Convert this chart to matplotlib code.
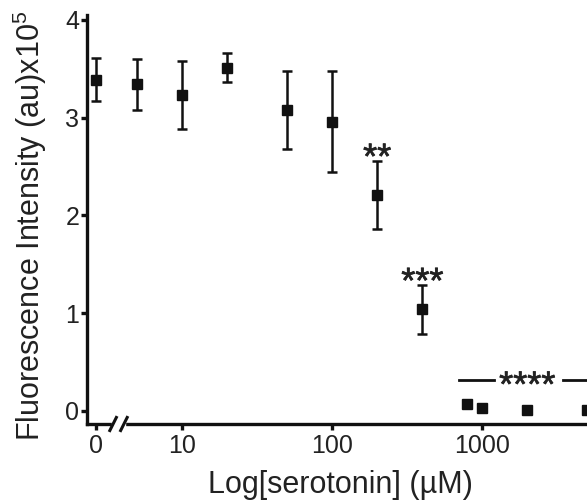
import numpy as np
import matplotlib
matplotlib.use("Agg")
import matplotlib.pyplot as plt
import matplotlib.patheffects as pe

plt.rcParams['font.family'] = ['Liberation Sans', 'DejaVu Sans']
plt.rcParams['mathtext.fontset'] = 'custom'
plt.rcParams['mathtext.rm'] = 'Liberation Sans'

# serotonin concentration (uM), 0 is drawn left of the axis break
conc = [0, 5, 10, 20, 50, 100, 200, 400, 800, 1000, 2000, 5000]
intensity = [3.39, 3.34, 3.23, 3.51, 3.08, 2.96, 2.21, 1.04, 0.07, 0.03, 0.01, 0.01]
sem = [0.22, 0.26, 0.35, 0.15, 0.40, 0.52, 0.35, 0.25, 0.0, 0.0, 0.0, 0.0]

x_ticks = [0, 10, 100, 1000]
x_tick_labels = ['0', '10', '100', '1000']
y_ticks = [0, 1, 2, 3, 4]

# significance marks: (text, x, y baseline)
stars = [('**', 200, 2.48), ('***', 400, 1.21), ('****', 2000, 0.15)]
# line under the "****" label, split round the text
star_line_segments = [(700, 1200), (3450, 8000)]
star_line_y = 0.32

ZERO_POS = 2.67  # where the "0" group sits on the log axis

def pos(c):
    return ZERO_POS if c == 0 else c

xs = [pos(c) for c in conc]

fig = plt.figure(figsize=(5.87, 5.03), dpi=100)
W, H = 587, 503
left, right, top, bottom = 87, 632, 15, 424
ax = fig.add_axes([left / W, 1 - bottom / H, (right - left) / W, (bottom - top) / H])

ax.set_xscale('log')
ax.set_xlim(2.33, 10000)
ax.set_ylim(-0.133, 4.05)

ax.errorbar(xs, intensity, yerr=sem, fmt='s', color='#111111', markersize=7.5,
            elinewidth=1.8, capsize=3.6, capthick=1.8, ecolor='#111111', clip_on=False)

for s in ['top', 'right']:
    ax.spines[s].set_visible(False)
for s in ['left', 'bottom']:
    ax.spines[s].set_linewidth(2.4)
    ax.spines[s].set_color('#111111')

ax.set_xticks([pos(c) for c in x_ticks])
ax.set_xticklabels(x_tick_labels)
ax.xaxis.set_minor_locator(matplotlib.ticker.NullLocator())
ax.set_yticks(y_ticks)
ax.tick_params(axis='both', direction='out', length=4.5, width=2.4, color='#111111',
               labelsize=18, labelcolor='#222222')
ax.tick_params(axis='x', pad=3)
ax.tick_params(axis='y', pad=1)

# axis break
tr = ax.transAxes
bx0, bx1 = (112 - left) / (right - left), (125 - left) / (right - left)
ax.add_patch(plt.Rectangle((bx0, -0.01), bx1 - bx0, 0.02, transform=tr,
                           color='white', clip_on=False, zorder=5))
dx, dy = 0.006, 0.016
for bx in (bx0 + 0.002, bx1 - 0.002):
    ax.plot([bx - dx, bx + dx], [-dy, dy], transform=tr, color='#111111',
            lw=2.2, clip_on=False, zorder=6)

thick = [pe.withStroke(linewidth=0.5, foreground='#222222')]
for txt, xv, yv in stars:
    ax.text(xv, yv, txt, ha='center', va='baseline', fontsize=26, color='#222222',
            path_effects=thick)
for x0, x1 in star_line_segments:
    ax.plot([x0, x1], [star_line_y, star_line_y], color='#111111', lw=2.0, clip_on=False)

fig.text(340 / W, 1 - 493 / H, 'Log[serotonin] (\u00b5M)', ha='center', va='baseline',
         fontsize=22, color='#222222')
fig.text(30 / W, 1 - 226 / H, 'Fluorescence Intensity (au)x10$^5$', rotation=90,
         ha='center', va='center', fontsize=22, color='#222222')

fig.savefig('out.png', dpi=100)
